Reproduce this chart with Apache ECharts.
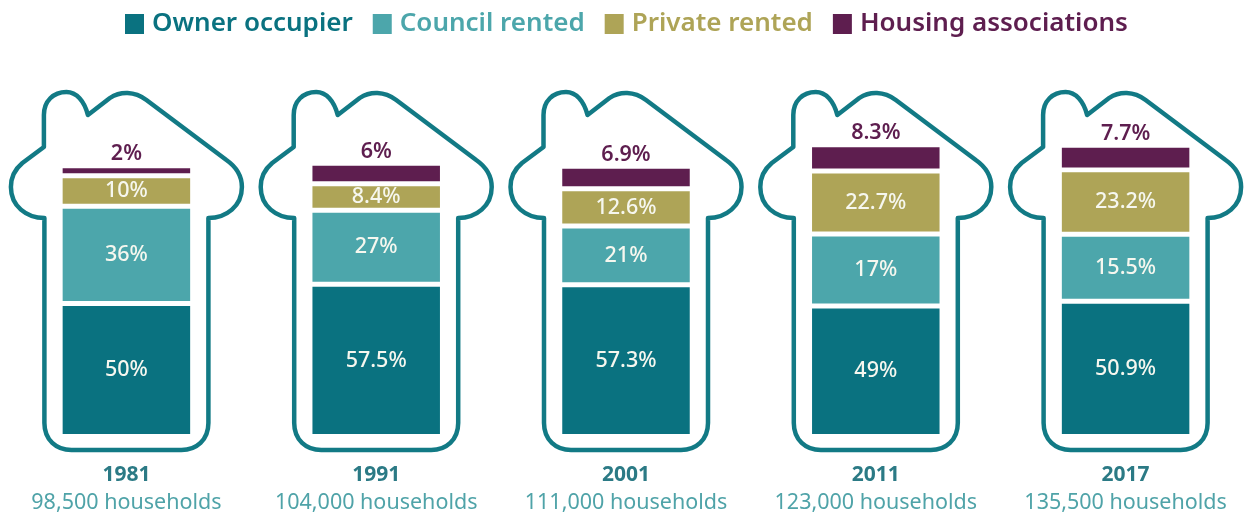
<!DOCTYPE html>
<html><head><meta charset="utf-8">
<style>html,body{margin:0;padding:0;background:#fff}#c{width:1248px;height:515px}</style>
<script src="https://cdn.jsdelivr.net/npm/echarts@6/dist/echarts.min.js"></script>
</head><body><div id="c"></div>
<script>
const years = ['1981','1991','2001','2011','2017'];
const households = ['98,500','104,000','111,000','123,000','135,500'];
const ownerOccupier = [50,57.5,57.3,49,50.9];
// Council bars follow the picture: in 2011 and 2017 the reference draws them taller than printed.
const councilRented = [36,27,21,26.2,24.2];
const councilLabels = ['36%','27%','21%','17%','15.5%'];
const privateRented = [10,8.4,12.6,22.7,23.2];
const housingAssoc = [2,6,6.9,8.3,7.7];
const gapUnits = 1.95;

const FONT = '"Noto Sans", sans-serif';
const COL = {owner:'#0a7280',council:'#4ca6ab',priv:'#aea457',ha:'#5e1e4f',line:'#127a85'};

function housePath(cx, by){
  const p=(x,y)=>(cx+x)+' '+(by+y);
  return 'M'+p(-82,-216)+
   'C'+p(-100,-216)+' '+p(-115.5,-228)+' '+p(-115.5,-247)+
   'C'+p(-115.5,-258)+' '+p(-110,-266)+' '+p(-104,-271)+
   'L'+p(-82.5,-287)+'L'+p(-82.5,-319)+
   'C'+p(-82.5,-333)+' '+p(-73,-342)+' '+p(-60,-342)+
   'C'+p(-50,-342)+' '+p(-42,-333)+' '+p(-38.5,-319)+
   'L'+p(-16.5,-336)+
   'C'+p(-6,-343)+' '+p(8,-343)+' '+p(20,-334)+
   'L'+p(100,-274)+
   'C'+p(110,-267)+' '+p(115.5,-258)+' '+p(115.5,-247)+
   'C'+p(115.5,-228)+' '+p(100,-216)+' '+p(82,-216)+
   'L'+p(82,-11)+'C'+p(82,6)+' '+p(70,16)+' '+p(55,16)+
   'L'+p(-55,16)+'C'+p(-70,16)+' '+p(-82,6)+' '+p(-82,-11)+'Z';
}
const inside = {show:true,position:'inside',color:'#f6f7ef',fontFamily:FONT,fontSize:21.5,fontWeight:500};
const bar = (name,data,color,label)=>({name,type:'bar',stack:'t',data,barWidth:127.5,itemStyle:{color},label,silent:true,z:3});
const gap = (name)=>({name,type:'bar',stack:'t',data:years.map(()=>gapUnits),barWidth:127.5,itemStyle:{color:'transparent'},silent:true,z:1});
const chart = echarts.init(document.getElementById('c'),null,{renderer:'canvas'});
chart.setOption({
  animation:false,
  backgroundColor:'#fff',
  legend:{
    left:120,top:6,icon:'rect',itemWidth:19,itemHeight:20,itemGap:20,selectedMode:false,
    data:['Owner occupier','Council rented','Private rented','Housing associations'],
    textStyle:{color:'inherit',fontFamily:FONT,fontSize:26,fontWeight:600,padding:[0,0,0,3]}
  },
  grid:{left:1.5,right:-2.5,top:114,bottom:81,outerBoundsMode:'none'},
  xAxis:{type:'category',data:years,axisLine:{show:false},axisTick:{show:false},
    axisLabel:{margin:28,interval:0,lineHeight:27,
      formatter:(v,i)=>'{y|'+v+'}\n{h|'+households[i]+' households}',
      rich:{y:{fontFamily:FONT,fontSize:21,fontWeight:700,color:'#2b7a85',lineHeight:27},
            h:{fontFamily:FONT,fontSize:21.5,color:'#4fa3a8',lineHeight:27}}}},
  yAxis:{type:'value',min:0,max:125,show:false},
  series:[
    {type:'custom',name:'house',silent:true,z:0,data:years.map((y,i)=>[i,0]),
     renderItem:(params,api)=>{
       const c=api.coord([api.value(0),0]);
       return {type:'path',shape:{pathData:housePath(c[0],c[1])},
         style:{fill:'#fff',stroke:COL.line,lineWidth:4.5,lineJoin:'round'}};
     }},
    bar('Owner occupier',ownerOccupier,COL.owner,{...inside,formatter:p=>p.value+'%'}),
    gap('g1'),
    bar('Council rented',councilRented,COL.council,{...inside,formatter:p=>councilLabels[p.dataIndex]}),
    gap('g2'),
    bar('Private rented',privateRented,COL.priv,{...inside,formatter:p=>p.value+'%'}),
    gap('g3'),
    bar('Housing associations',housingAssoc,COL.ha,{show:true,position:'top',distance:3,color:COL.ha,fontFamily:FONT,fontSize:21.5,fontWeight:600,formatter:p=>p.value+'%'})
  ]
});
</script></body></html>
